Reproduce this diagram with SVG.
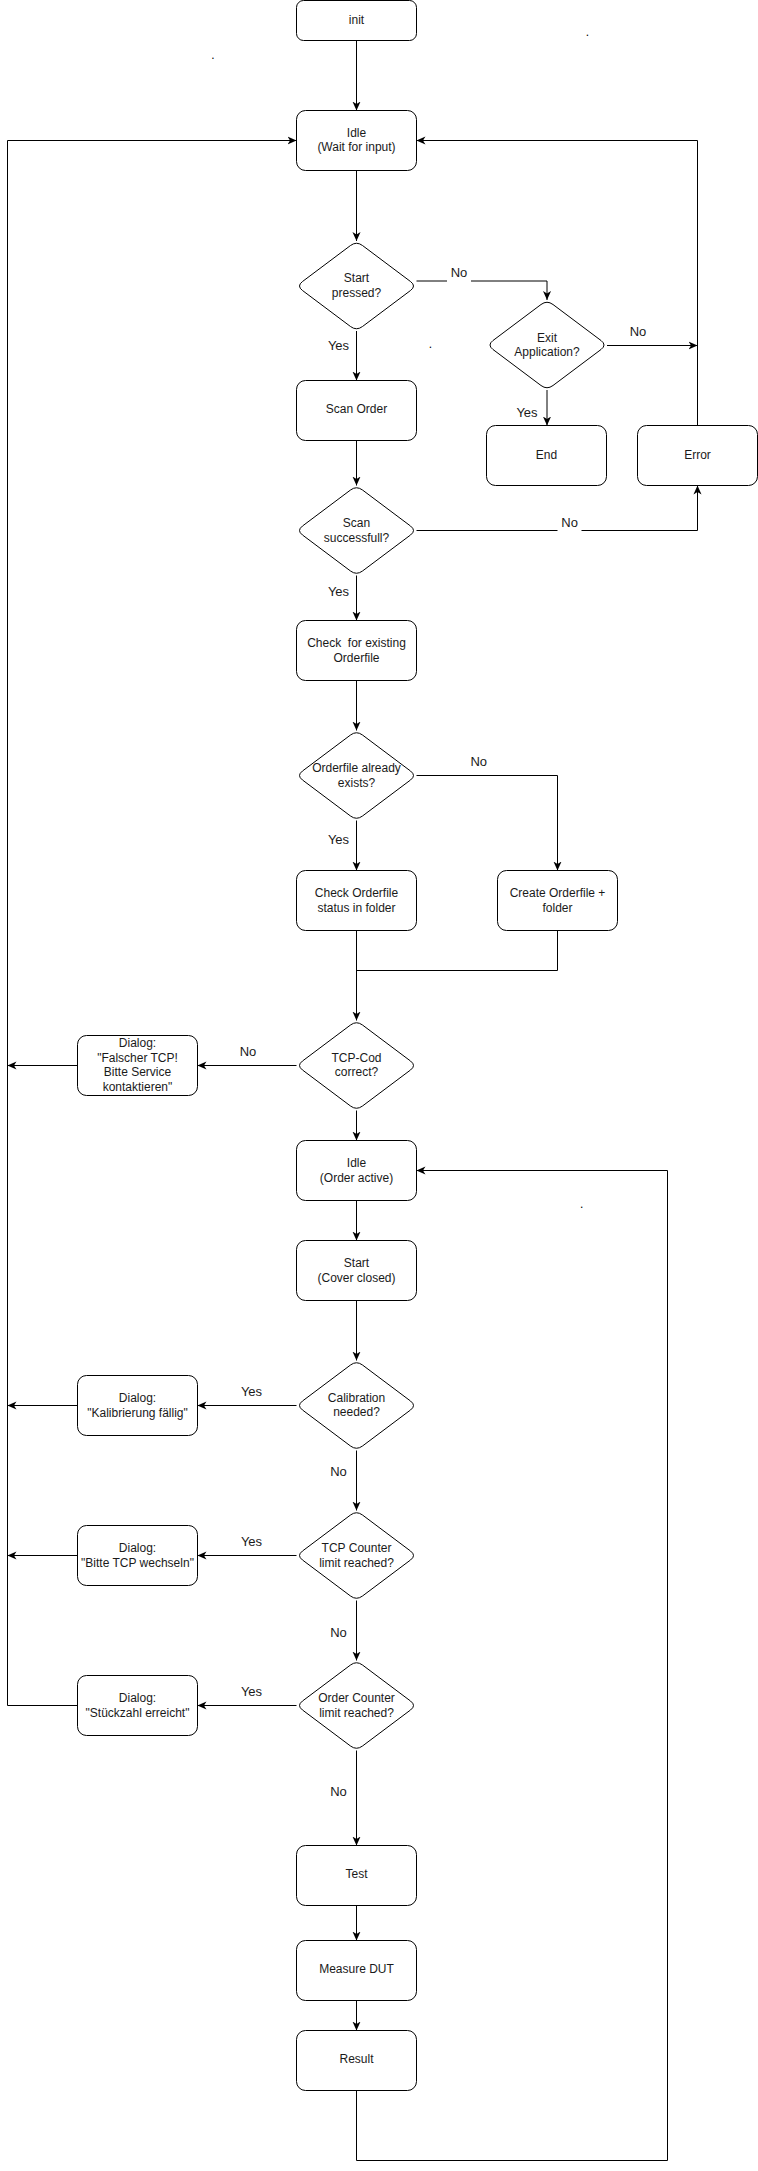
<svg xmlns="http://www.w3.org/2000/svg" xmlns:xlink="http://www.w3.org/1999/xlink" width="758" height="2171" viewBox="0 0 758 2171">
<style>
.n rect, .n use{fill:#fff;stroke:#000;stroke-width:1}
.n text{font-family:"Liberation Sans",Arial,sans-serif;font-size:12px;fill:#1a1a1a;text-anchor:middle;white-space:pre}
.c path{fill:none;stroke:#000;stroke-width:1}
.c .a{marker-end:url(#arr)}
.l text{font-family:"Liberation Sans",Arial,sans-serif;font-size:13px;fill:#1a1a1a;text-anchor:middle}
.l rect{fill:#fff}
.dot{font-family:"Liberation Sans",Arial,sans-serif;font-size:12px;fill:#000;text-anchor:middle}
</style>
<defs>
<marker id="arr" viewBox="0 0 10 10" refX="10" refY="5" markerWidth="9" markerHeight="9" markerUnits="userSpaceOnUse" orient="auto">
<path d="M0,0.5 L10,5 L0,9.5 L2.8,5 Z" fill="#000"/>
</marker>
<path id="dia" d="M-6,-40.5 Q0,-45 6,-40.5 L54,-4.5 Q60,0 54,4.5 L6,40.5 Q0,45 -6,40.5 L-54,4.5 Q-60,0 -54,-4.5 Z"/>
</defs>
<rect width="758" height="2171" fill="#fff"/>

<g id="connectors" class="c">
<path class="a" d="M356.5,40.5 V110.5"/>
<path class="a" d="M356.5,170.5 V241"/>
<path class="a" d="M416.5,281 H547 V300"/>
<path class="a" d="M607,345.5 H697.5"/>
<path class="a" d="M547,390 V425.5"/>
<path class="a" d="M697.5,425.5 V140.5 H416.5"/>
<path class="a" d="M356.5,331 V380.5"/>
<path class="a" d="M356.5,440.5 V485.5"/>
<path class="a" d="M416.5,530.5 H697.5 V485.5"/>
<path class="a" d="M356.5,575.5 V620.5"/>
<path class="a" d="M356.5,680.5 V730.5"/>
<path class="a" d="M416.5,775.5 H557.5 V870.5"/>
<path class="a" d="M356.5,820.5 V870.5"/>
<path class="a" d="M356.5,930.5 V1020.5"/>
<path d="M557.5,930.5 V970.5 H356.5"/>
<path class="a" d="M296.5,1065.5 H197.5"/>
<path class="a" d="M77.5,1065.5 H7.5"/>
<path class="a" d="M356.5,1110.5 V1140.5"/>
<path class="a" d="M356.5,1200.5 V1240.5"/>
<path class="a" d="M356.5,1300.5 V1360.5"/>
<path class="a" d="M296.5,1405.5 H197.5"/>
<path class="a" d="M77.5,1405.5 H7.5"/>
<path class="a" d="M356.5,1450.5 V1510.5"/>
<path class="a" d="M296.5,1555.5 H197.5"/>
<path class="a" d="M77.5,1555.5 H7.5"/>
<path class="a" d="M356.5,1600.5 V1660.5"/>
<path class="a" d="M296.5,1705.5 H197.5"/>
<path class="a" d="M77.5,1705.5 H7.5 V140.5 H296.5"/>
<path class="a" d="M356.5,1750.5 V1845.5"/>
<path class="a" d="M356.5,1905.5 V1940.5"/>
<path class="a" d="M356.5,2000.5 V2030.5"/>
<path class="a" d="M356.5,2090.5 V2160.5 H667.5 V1170.5 H416.5"/>
</g>

<g id="labels" class="l">
<rect x="447" y="264" width="24" height="18"/>
<text x="459" y="277">No</text>
<text x="338.5" y="350.4">Yes</text>
<text x="638" y="335.7">No</text>
<text x="527" y="417.4">Yes</text>
<rect x="557.5" y="514" width="24" height="18"/>
<text x="569.6" y="527">No</text>
<text x="338.5" y="595.7">Yes</text>
<text x="478.7" y="766">No</text>
<text x="338.5" y="843.7">Yes</text>
<text x="248" y="1055.7">No</text>
<text x="251.5" y="1395.7">Yes</text>
<text x="338.5" y="1476.4">No</text>
<text x="251.5" y="1545.7">Yes</text>
<text x="338.5" y="1637">No</text>
<text x="251.5" y="1695.7">Yes</text>
<text x="338.5" y="1795.7">No</text>
</g>

<g id="n-init" class="n"><rect x="296.5" y="0.5" width="120" height="40" rx="7"/><text x="356.5" y="23.5">init</text></g>
<g id="n-idle1" class="n"><rect x="296.5" y="110.5" width="120" height="60" rx="9"/><text x="356.5" y="136.7">Idle</text><text x="356.5" y="151.3">(Wait for input)</text></g>
<g id="n-startpressed" class="n"><use xlink:href="#dia" href="#dia" x="356.5" y="286"/><text x="356.5" y="281.7">Start</text><text x="356.5" y="296.7">pressed?</text></g>
<g id="n-exit" class="n"><use xlink:href="#dia" href="#dia" x="547" y="345"/><text x="547" y="341.7">Exit</text><text x="547" y="356.3">Application?</text></g>
<g id="n-scanorder" class="n"><rect x="296.5" y="380.5" width="120" height="60" rx="9"/><text x="356.5" y="413.3">Scan Order</text></g>
<g id="n-end" class="n"><rect x="486.5" y="425.5" width="120" height="60" rx="9"/><text x="546.5" y="458.7">End</text></g>
<g id="n-error" class="n"><rect x="637.5" y="425.5" width="120" height="60" rx="9"/><text x="697.5" y="458.7">Error</text></g>
<g id="n-scanok" class="n"><use xlink:href="#dia" href="#dia" x="356.5" y="530.5"/><text x="356.5" y="527">Scan</text><text x="356.5" y="542">successfull?</text></g>
<g id="n-checkexist" class="n"><rect x="296.5" y="620.5" width="120" height="60" rx="9"/><text x="356.5" y="646.7">Check  for existing</text><text x="356.5" y="661.7">Orderfile</text></g>
<g id="n-orderexists" class="n"><use xlink:href="#dia" href="#dia" x="356.5" y="775.5"/><text x="356.5" y="772.3">Orderfile already</text><text x="356.5" y="786.7">exists?</text></g>
<g id="n-checkstatus" class="n"><rect x="296.5" y="870.5" width="120" height="60" rx="9"/><text x="356.5" y="896.7">Check Orderfile</text><text x="356.5" y="911.7">status in folder</text></g>
<g id="n-create" class="n"><rect x="497.5" y="870.5" width="120" height="60" rx="9"/><text x="557.5" y="896.7">Create Orderfile +</text><text x="557.5" y="911.7">folder</text></g>
<g id="n-tcpcod" class="n"><use xlink:href="#dia" href="#dia" x="356.5" y="1065.5"/><text x="356.5" y="1061.7">TCP-Cod</text><text x="356.5" y="1076.3">correct?</text></g>
<g id="n-dlg-tcp" class="n"><rect x="77.5" y="1035.5" width="120" height="60" rx="9"/><text x="137.5" y="1047.3">Dialog:</text><text x="137.5" y="1061.7">"Falscher TCP!</text><text x="137.5" y="1076.3">Bitte Service</text><text x="137.5" y="1090.7">kontaktieren"</text></g>
<g id="n-idle2" class="n"><rect x="296.5" y="1140.5" width="120" height="60" rx="9"/><text x="356.5" y="1166.7">Idle</text><text x="356.5" y="1181.7">(Order active)</text></g>
<g id="n-start" class="n"><rect x="296.5" y="1240.5" width="120" height="60" rx="9"/><text x="356.5" y="1266.7">Start</text><text x="356.5" y="1281.7">(Cover closed)</text></g>
<g id="n-calib" class="n"><use xlink:href="#dia" href="#dia" x="356.5" y="1405.5"/><text x="356.5" y="1401.7">Calibration</text><text x="356.5" y="1416.3">needed?</text></g>
<g id="n-dlg-calib" class="n"><rect x="77.5" y="1375.5" width="120" height="60" rx="9"/><text x="137.5" y="1401.7">Dialog:</text><text x="137.5" y="1417.3">"Kalibrierung fällig"</text></g>
<g id="n-tcpcounter" class="n"><use xlink:href="#dia" href="#dia" x="356.5" y="1555.5"/><text x="356.5" y="1551.7">TCP Counter</text><text x="356.5" y="1566.7">limit reached?</text></g>
<g id="n-dlg-wechseln" class="n"><rect x="77.5" y="1525.5" width="120" height="60" rx="9"/><text x="137.5" y="1551.7">Dialog:</text><text x="137.5" y="1566.7">"Bitte TCP wechseln"</text></g>
<g id="n-ordercounter" class="n"><use xlink:href="#dia" href="#dia" x="356.5" y="1705.5"/><text x="356.5" y="1701.7">Order Counter</text><text x="356.5" y="1716.7">limit reached?</text></g>
<g id="n-dlg-stueck" class="n"><rect x="77.5" y="1675.5" width="120" height="60" rx="9"/><text x="137.5" y="1701.7">Dialog:</text><text x="137.5" y="1716.7">"Stückzahl erreicht"</text></g>
<g id="n-test" class="n"><rect x="296.5" y="1845.5" width="120" height="60" rx="9"/><text x="356.5" y="1878.3">Test</text></g>
<g id="n-measure" class="n"><rect x="296.5" y="1940.5" width="120" height="60" rx="9"/><text x="356.5" y="1973.3">Measure DUT</text></g>
<g id="n-result" class="n"><rect x="296.5" y="2030.5" width="120" height="60" rx="9"/><text x="356.5" y="2063.3">Result</text></g>

<g id="dots">
<text class="dot" x="212.8" y="59">.</text>
<text class="dot" x="587.5" y="36">.</text>
<text class="dot" x="430.4" y="348">.</text>
<text class="dot" x="581.7" y="1208">.</text>
</g>
</svg>
